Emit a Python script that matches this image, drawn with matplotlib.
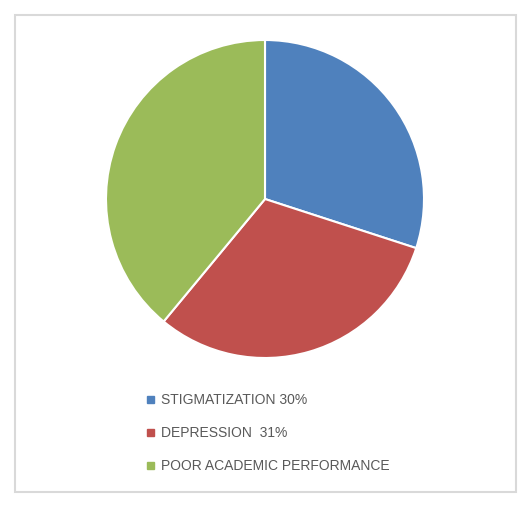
import matplotlib.pyplot as plt
from matplotlib.patches import Rectangle

labels = ['STIGMATIZATION 30%', 'DEPRESSION  31%', 'POOR ACADEMIC PERFORMANCE']
values = [30, 31, 39]
colors = ['#4F81BD', '#C0504D', '#9BBB59']

W, H = 526, 506
fig = plt.figure(figsize=(W / 100, H / 100), dpi=100)

# chart border
fig.patches.append(Rectangle((15 / W, 1 - 493 / H), 501 / W, 477 / H,
                             transform=fig.transFigure, fill=False,
                             edgecolor='#d9d9d9', linewidth=1.5))

# pie, center (265,200), radius 159 px
cx, cy, r = 265, 200, 159
ax = fig.add_axes([(cx - r) / W, 1 - (cy + r) / H, 2 * r / W, 2 * r / H])
ax.pie(values, colors=colors, startangle=90, counterclock=False,
       wedgeprops={'edgecolor': 'white', 'linewidth': 1.5})
ax.set_xlim(-1, 1)
ax.set_ylim(-1, 1)
ax.axis('off')

# legend
ys = [400, 433, 466]
for lab, col, y in zip(labels, colors, ys):
    fig.patches.append(Rectangle((147 / W, 1 - (y + 3.5) / H), 7 / W, 7 / H,
                                 transform=fig.transFigure, color=col))
    fig.text(161 / W, 1 - y / H, lab, fontsize=10, color='#595959',
             family='Liberation Sans', va='center', ha='left')

fig.savefig('out.png', dpi=100)
